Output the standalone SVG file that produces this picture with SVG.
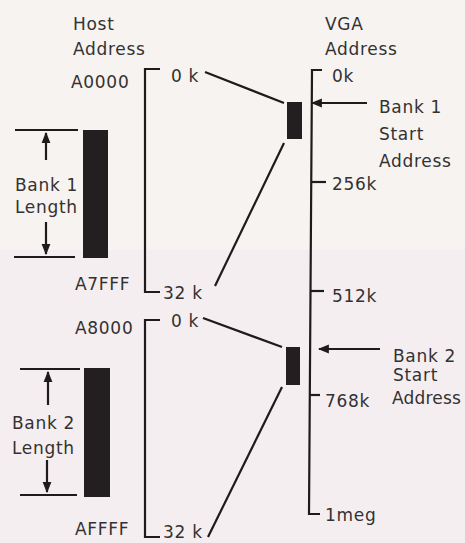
<svg xmlns="http://www.w3.org/2000/svg" width="465" height="543" viewBox="0 0 465 543">
<defs>
<style>
text{font-family:"DejaVu Sans","Liberation Sans",sans-serif;font-size:17px;letter-spacing:0.7px;fill:#343132}
.ln{stroke:#1e1b1c;stroke-width:2.2;fill:none}
.bar{fill:#231f20}
</style>
<marker id="ah" viewBox="0 0 10 10" refX="9" refY="5" markerWidth="5" markerHeight="5" orient="auto-start-reverse" markerUnits="strokeWidth">
<path d="M0,1 L10,5 L0,9 z" fill="#1e1b1c"/>
</marker>
</defs>
<rect width="465" height="543" fill="#f6f3f1"/>
<rect y="250" width="465" height="293" fill="#f5eef0"/>

<g id="host-header">
<text x="73" y="30">Host</text>
<text x="73" y="55">Address</text>
</g>
<g id="vga-header">
<text x="325" y="30">VGA</text>
<text x="325" y="55">Address</text>
</g>

<g id="host-bank1">
<path class="ln" d="M160,69 H145 V292 H160"/>
<text x="71" y="88">A0000</text>
<text x="171" y="82">0 k</text>
<text x="75" y="290">A7FFF</text>
<text x="163" y="299">32 k</text>
</g>

<g id="host-bank2">
<path class="ln" d="M160,320 H145 V537 H160"/>
<text x="75" y="334">A8000</text>
<text x="171" y="327">0 k</text>
<text x="75" y="535">AFFFF</text>
<text x="163" y="538">32 k</text>
</g>

<g id="bank1-length">
<rect class="bar" x="83" y="130" width="25" height="128"/>
<line class="ln" x1="15" y1="130" x2="78" y2="130"/>
<line class="ln" x1="14" y1="257" x2="75" y2="257"/>
<line class="ln" x1="46" y1="160" x2="46" y2="133" marker-end="url(#ah)"/>
<line class="ln" x1="46" y1="222" x2="46" y2="254" marker-end="url(#ah)"/>
<text x="15" y="191">Bank 1</text>
<text x="15" y="213">Length</text>
</g>

<g id="bank2-length">
<rect class="bar" x="84" y="368" width="26" height="129"/>
<line class="ln" x1="20" y1="369" x2="80" y2="369"/>
<line class="ln" x1="20" y1="495" x2="77" y2="495"/>
<line class="ln" x1="48" y1="405" x2="48" y2="372" marker-end="url(#ah)"/>
<line class="ln" x1="47" y1="460" x2="47" y2="492" marker-end="url(#ah)"/>
<text x="12" y="429">Bank 2</text>
<text x="12" y="454">Length</text>
</g>

<g id="vga-axis">
<path class="ln" d="M322,70 H312 L309,514 H320"/>
<line class="ln" x1="312" y1="182" x2="326" y2="182"/>
<line class="ln" x1="310" y1="291" x2="324" y2="291"/>
<line class="ln" x1="309" y1="395" x2="320" y2="395"/>
<text x="332" y="82">0k</text>
<text x="332" y="190">256k</text>
<text x="332" y="302">512k</text>
<text x="325" y="407">768k</text>
<text x="325" y="521">1meg</text>
</g>

<g id="vga-bank1">
<rect class="bar" x="287" y="102" width="15" height="37"/>
</g>
<g id="vga-bank2">
<rect class="bar" x="286" y="347" width="14" height="38"/>
</g>

<g id="bank1-start">
<text x="379" y="113">Bank 1</text>
<text x="379" y="140">Start</text>
<text x="379" y="167">Address</text>
</g>
<g id="bank2-start">
<text x="393" y="362">Bank 2</text>
<text x="393" y="381">Start</text>
<text x="392" y="404" style="letter-spacing:0.2px">Address</text>
</g>

<g id="connectors">
<line class="ln" x1="205" y1="72" x2="284" y2="103"/>
<line class="ln" x1="215" y1="286" x2="284" y2="143"/>
<line class="ln" x1="203" y1="318" x2="282" y2="347"/>
<line class="ln" x1="208" y1="537" x2="282" y2="387"/>
<line class="ln" x1="367" y1="103" x2="312" y2="103" marker-end="url(#ah)"/>
<line class="ln" x1="380" y1="349" x2="319" y2="349" marker-end="url(#ah)"/>
</g>
</svg>
